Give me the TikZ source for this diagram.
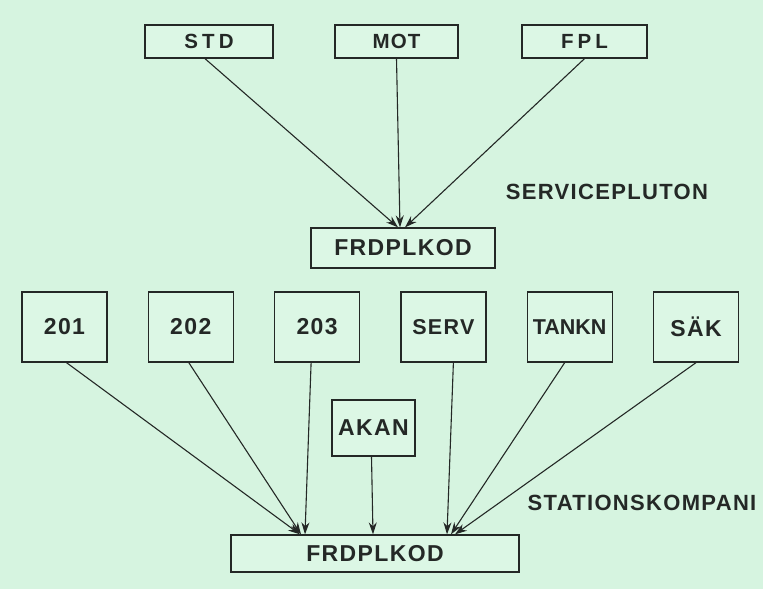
\documentclass[tikz,border=0pt]{standalone}
\usepackage{fontspec}
\setmainfont{Liberation Sans}
\newfontfamily\boxfont[LetterSpace=6]{Liberation Sans}
\newfontfamily\widefont[LetterSpace=20]{Liberation Sans}
\newfontfamily\tightfont{Liberation Sans}
\usetikzlibrary{arrows.meta, positioning}
\definecolor{mintbg}{RGB}{214,244,224}
\definecolor{boxfill}{RGB}{220,247,229}
\definecolor{inkline}{RGB}{36,40,38}
\tikzset{
  unit/.style={
    rectangle, draw=inkline, line width=1.3pt, fill=boxfill,
    minimum width=85pt, minimum height=70pt, inner sep=0pt,
    align=center, text=inkline, font=\boxfont\bfseries\fontsize{23}{27}\selectfont
  },
  source/.style={
    unit, minimum height=33pt, font=\boxfont\bfseries\fontsize{20.5}{24}\selectfont
  },
  target/.style={
    unit, minimum height=38pt
  },
  grouplabel/.style={
    text=inkline, font=\boxfont\bfseries\fontsize{22}{26}\selectfont
  },
  arrow/.style={-{Stealth[length=12pt,width=8pt]}, line width=1.1pt, draw=inkline}
}
\begin{document}
\begin{tikzpicture}[x=1pt, y=-1pt, node distance=40pt]

% background
\fill[mintbg] (0,0) rectangle (763,589);

% Service platoon
\node[source, minimum width=128pt, font=\widefont\bfseries\fontsize{20.5}{24}\selectfont] (std) at (209,41.5) {STD};
\node[source, minimum width=123pt] (mot) at (396.5,41.5) {MOT};
\node[source, minimum width=125pt, font=\widefont\bfseries\fontsize{20.5}{24}\selectfont] (fpl) at (584.5,41.5) {FPL};
\node[target, minimum width=184pt, minimum height=40pt] (frdtop) at (403,248) {FRDPLKOD};
\node[grouplabel] (spluton) at (607,192) {SERVICEPLUTON};

% Station company
\node[unit] (u201) at (64.5,327) {201};
\node[unit, right=of u201] (u202) {202};
\node[unit, right=of u202] (u203) {203};
\node[unit, right=of u203, font=\boxfont\bfseries\fontsize{21.5}{25}\selectfont] (serv) {SERV};
\node[unit, right=of serv, font=\tightfont\bfseries\fontsize{21.5}{25}\selectfont] (tankn) {TANKN};
\node[unit, right=of tankn] (sak) {SÄK};
\node[unit, minimum width=83pt, minimum height=56pt] (akan) at (373.5,428) {AKAN};
\node[target, minimum width=288pt, minimum height=37pt] (frdbot) at (375,553.5) {FRDPLKOD};
\node[grouplabel] (skomp) at (642,503) {STATIONSKOMPANI};

% Flow arrows
\draw[arrow] ([xshift=-4pt]std.south) -- ([xshift=-5pt]frdtop.north);
\draw[arrow] (mot.south) -- ([xshift=-3pt]frdtop.north);
\draw[arrow] (fpl.south) -- ([xshift=2pt]frdtop.north);

\draw[arrow] ([xshift=2pt]u201.south) -- ([xshift=-75pt]frdbot.north);
\draw[arrow] ([xshift=-2pt]u202.south) -- ([xshift=-74pt]frdbot.north);
\draw[arrow] ([xshift=-6pt]u203.south) -- ([xshift=-70pt]frdbot.north);
\draw[arrow] ([xshift=-2pt]akan.south) -- ([xshift=-2pt]frdbot.north);
\draw[arrow] ([xshift=10pt]serv.south) -- ([xshift=72pt]frdbot.north);
\draw[arrow] ([xshift=-5pt]tankn.south) -- ([xshift=76pt]frdbot.north);
\draw[arrow] (sak.south) -- ([xshift=80pt]frdbot.north);

\end{tikzpicture}
\end{document}
